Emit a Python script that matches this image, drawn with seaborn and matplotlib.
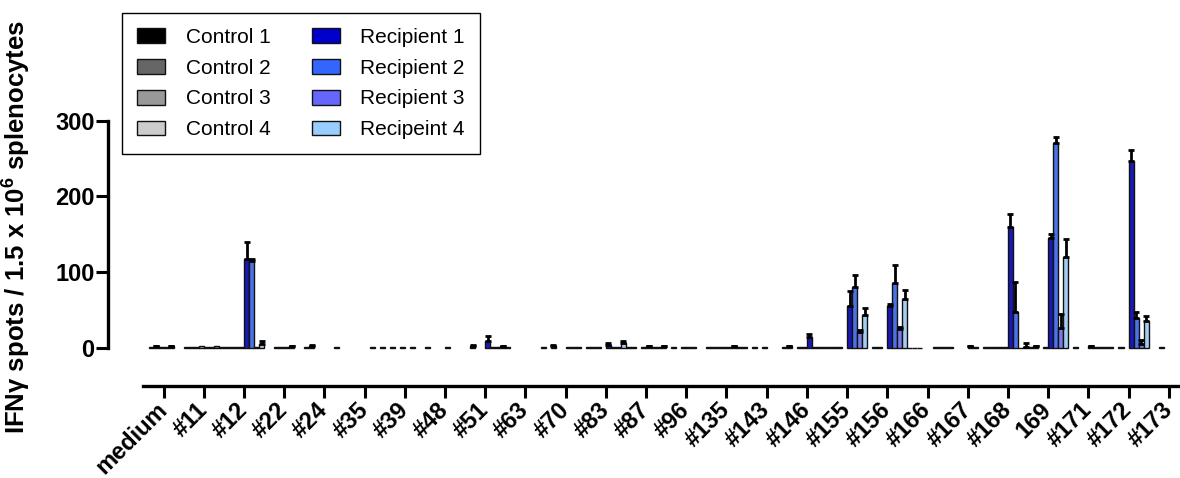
import numpy as np
import pandas as pd
import matplotlib
matplotlib.use("Agg")
import matplotlib.pyplot as plt
from matplotlib.patches import Patch
from matplotlib.container import BarContainer
import seaborn as sns

nan = np.nan

peptides = ["medium", "#11", "#12", "#22", "#24", "#35", "#39", "#48", "#51", "#63",
            "#70", "#83", "#87", "#96", "#135", "#143", "#146", "#155", "#156", "#166",
            "#167", "#168", "169", "#171", "#172", "#173"]

groups = ["Control 1", "Control 2", "Control 3", "Control 4",
          "Recipient 1", "Recipient 2", "Recipient 3", "Recipeint 4"]

colors = ["#000000", "#666666", "#999999", "#cccccc",
          "#0000cc", "#3366ff", "#6666ff", "#99ccff"]

# mean spot counts per peptide (NaN = no bar)
control1 = [nan, 1, 1, nan, 1, nan, nan, 1, nan, 1, nan, 1, 1, nan, 1, nan, 2, 1, nan, 0.5, 1, 1, 1, nan, 1, nan]
control2 = [1, 1, 1, nan, 3, nan, 1, nan, 3, nan, 3, 1, 1, 1, 1, 1, nan, 1, 1, 0.5, nan, 1, 2, 1, nan, nan]
control3 = [2, 1, 1, 1, nan, nan, nan, nan, nan, nan, nan, 1, nan, nan, 1, nan, 1, 1, 1, 0.5, nan, 1, nan, nan, 1, 1]
control4 = [1, 2, 1, 1, nan, nan, 1, nan, nan, nan, nan, nan, 1, 1, 1, 1, 1, nan, nan, nan, nan, 1, 1, nan, nan, nan]
recipient1 = [1, 1, 117, 1, nan, nan, nan, 1, 9, nan, 1, 4, 2, 1, 1, nan, 14.5, 55, 55, nan, 2, 160, 145, 2, 247, nan]
recipient2 = [2, 1, 115, 2, nan, 1, 1, nan, 1, nan, 1, 1, 1, 1, 2, nan, 1, 80, 86, 1, 1, 48, 270, 1, 40, nan]
recipient3 = [nan, 2, 1, nan, 1, nan, nan, nan, 1, nan, 1, 1, 1, nan, 1, nan, 1, 21, 25, 1, nan, 0.5, 27, 1, 5, nan]
recipient4 = [nan, 1, 5, nan, nan, 1, nan, nan, 2, 1, nan, 6.5, 2, nan, 1, 1, 1, 43, 65, 1, 1, 1, 120.5, 1.5, 35, nan]

# upper error (SEM) per peptide
control1_err = [0, 0, 0, 0, 0, 0, 0, 0, 0, 0, 0, 0, 0, 0, 0, 0, 1, 0, 0, 0, 0, 0, 0, 0, 0, 0]
control2_err = [0, 0, 0, 0, 1, 0, 0, 0, 1, 0, 1, 0, 0, 0, 0, 0, 0, 0, 0, 0, 0, 0, 1, 0, 0, 0]
control3_err = [1, 0, 0, 0, 0, 0, 0, 0, 0, 0, 0, 0, 0, 0, 0, 0, 0, 0, 0, 0, 0, 0, 0, 0, 0, 0]
control4_err = [0] * 26
recipient1_err = [0, 0, 23, 0, 0, 0, 0, 0, 7, 0, 0, 2, 1, 0, 0, 0, 3.5, 20, 3, 0, 1, 17, 5, 1, 14, 0]
recipient2_err = [1, 0, 3, 1, 0, 0, 0, 0, 0, 0, 0, 0, 0, 0, 1, 0, 0, 16, 23, 0, 0, 39, 9, 0, 7, 0]
recipient3_err = [0, 0, 0, 0, 0, 0, 0, 0, 0, 0, 0, 0, 0, 0, 0, 0, 0, 3, 3, 0, 0, 0, 18, 0, 5, 0]
recipient4_err = [0, 0, 4, 0, 0, 0, 0, 0, 1, 0, 0, 3, 1, 0, 0, 0, 0, 10, 12, 0, 0, 5, 23.5, 0, 7, 0]

series = [control1, control2, control3, control4,
          recipient1, recipient2, recipient3, recipient4]
errors = [control1_err, control2_err, control3_err, control4_err,
          recipient1_err, recipient2_err, recipient3_err, recipient4_err]

rows = []
for g, vals in zip(groups, series):
    for p, v in zip(peptides, vals):
        rows.append({"peptide": p, "group": g, "spots": v})
df = pd.DataFrame(rows)

sns.set_style("ticks")
plt.rcParams.update({
    "font.family": ["Liberation Sans", "DejaVu Sans"],
    "text.color": "black",
    "axes.labelcolor": "black",
    "axes.edgecolor": "black",
    "xtick.color": "black",
    "ytick.color": "black",
    "mathtext.fontset": "custom",
    "mathtext.rm": "Liberation Sans:bold",
    "mathtext.it": "Liberation Sans:bold",
    "mathtext.bf": "Liberation Sans:bold",
})

fig = plt.figure(figsize=(11.8, 4.78), dpi=100)
ax = fig.add_axes([0.1216, 0.1925, 0.8784, 0.7866])

sns.barplot(data=df, x="peptide", y="spots", hue="group", order=peptides,
            hue_order=groups, palette=colors, width=1.0, errorbar=None,
            edgecolor="#111111", linewidth=1.0, legend=False, ax=ax)

# upward error bars on each bar
bar_containers = [c for c in ax.containers if isinstance(c, BarContainer)]
for gi, cont in enumerate(bar_containers):
    for patch in cont.patches:
        h = patch.get_height()
        if not np.isfinite(h):
            continue
        xc = patch.get_x() + patch.get_width() / 2
        ci = int(round(xc))
        e = errors[gi][ci]
        if e > 0:
            ax.errorbar([xc], [h], yerr=[[0], [e]], fmt="none", ecolor="black",
                        elinewidth=2.0, capsize=1.9, capthick=2.0, zorder=5)

ax.set_xlim(-0.5, 25.28)
ax.set_ylim(-50.1, 445.9)
ax.set_yticks([0, 100, 200, 300])
ax.set_xlabel("")
ax.set_ylabel("IFNγ spots / 1.5 x 10$^{6}$ splenocytes", fontsize=18.5, fontweight="bold")
ax.yaxis.set_label_coords(-0.1066, 0.423)

for s in ["top", "right"]:
    ax.spines[s].set_visible(False)
ax.spines["left"].set_position(("outward", 25.6))
ax.spines["left"].set_bounds(0, 300)
ax.spines["left"].set_linewidth(2.4)
ax.spines["bottom"].set_linewidth(2.4)

ax.tick_params(axis="y", length=8.5, width=2.2, labelsize=17, pad=1)
ax.tick_params(axis="x", length=8.5, width=2.2, labelsize=17, pad=6)
for lbl in ax.get_yticklabels():
    lbl.set_fontweight("bold")
for lbl in ax.get_xticklabels():
    lbl.set_fontweight("bold")
    lbl.set_rotation(45)
    lbl.set_ha("right")
    lbl.set_va("center")
    lbl.set_rotation_mode("anchor")

handles = [Patch(facecolor=c, edgecolor="#111111", linewidth=1.0) for c in colors]
leg = fig.legend(handles, groups, ncol=2, loc="upper left",
                 bbox_to_anchor=(122 / 1180, 1 - 12.7 / 478), borderaxespad=0,
                 fontsize=15, handlelength=1.33, handleheight=0.71,
                 handletextpad=1.0, labelspacing=0.57, columnspacing=2.0,
                 borderpad=0.72, fancybox=False, framealpha=1, edgecolor="black")
leg.get_frame().set_linewidth(1.0)

fig.savefig("out.png", dpi=100)
